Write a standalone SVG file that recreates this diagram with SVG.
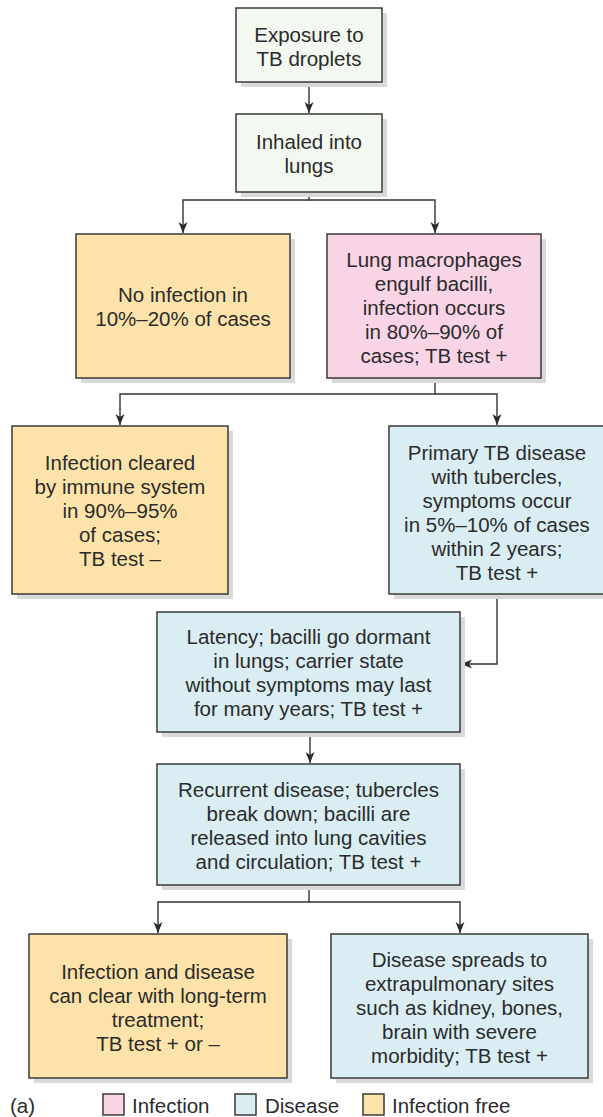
<svg xmlns="http://www.w3.org/2000/svg" width="603" height="1117" viewBox="0 0 603 1117">
  <defs>
    <style>
      .box { stroke: #3a3a3a; stroke-width: 1.5; }
      .shadow { fill: #d9d9d9; }
      .start { fill: #f3f8f0; }
      .free { fill: #fde3a9; }
      .inf { fill: #f9d4e5; }
      .dis { fill: #d9edf2; }
      .lbl { font-family: "Liberation Sans", Arial, sans-serif; font-size: 20.5px; fill: #2b2b2b; text-anchor: middle; }
      .leg { font-family: "Liberation Sans", Arial, sans-serif; font-size: 20.5px; fill: #2b2b2b; }
      .wire { fill: none; stroke: #333; stroke-width: 1.4; }
    </style>
    <marker id="arrow" markerWidth="12" markerHeight="10" refX="11" refY="4.5" orient="auto" markerUnits="userSpaceOnUse">
      <path d="M0,0 L11,4.5 L0,9 L3,4.5 z" fill="#2b2b2b"/>
    </marker>
  </defs>

  <!-- connectors -->
  <g id="connectors">
    <path class="wire" d="M309,82 V113" marker-end="url(#arrow)"/>
    <path class="wire" d="M309,192 V200 H183 V233" marker-end="url(#arrow)"/>
    <path class="wire" d="M309,200 H435 V233" marker-end="url(#arrow)"/>
    <path class="wire" d="M435,378 V394 H120 V425" marker-end="url(#arrow)"/>
    <path class="wire" d="M435,394 H497 V425" marker-end="url(#arrow)"/>
    <path class="wire" d="M497,594 V664 H461" marker-end="url(#arrow)"/>
    <path class="wire" d="M310,732 V763" marker-end="url(#arrow)"/>
    <path class="wire" d="M309,885 V902 H158 V933" marker-end="url(#arrow)"/>
    <path class="wire" d="M309,902 H460 V933" marker-end="url(#arrow)"/>
  </g>

  <g id="exposure">
    <rect class="shadow" x="241" y="13" width="146" height="74"/>
    <rect class="box start" x="236" y="8" width="146" height="74"/>
    <text class="lbl" x="309" y="42">Exposure to</text>
    <text class="lbl" x="309" y="66">TB droplets</text>
  </g>

  <g id="inhaled">
    <rect class="shadow" x="241" y="119" width="146" height="78"/>
    <rect class="box start" x="236" y="114" width="146" height="78"/>
    <text class="lbl" x="309" y="149">Inhaled into</text>
    <text class="lbl" x="309" y="173">lungs</text>
  </g>

  <g id="no-infection">
    <rect class="shadow" x="81" y="239" width="214" height="144"/>
    <rect class="box free" x="76" y="234" width="214" height="144"/>
    <text class="lbl" x="183" y="302">No infection in</text>
    <text class="lbl" x="183" y="326">10%–20% of cases</text>
  </g>

  <g id="macrophages">
    <rect class="shadow" x="332" y="239" width="214" height="144"/>
    <rect class="box inf" x="327" y="234" width="214" height="144"/>
    <text class="lbl" x="434" y="267">Lung macrophages</text>
    <text class="lbl" x="434" y="291">engulf bacilli,</text>
    <text class="lbl" x="434" y="315">infection occurs</text>
    <text class="lbl" x="434" y="339">in 80%–90% of</text>
    <text class="lbl" x="434" y="363">cases; TB test +</text>
  </g>

  <g id="cleared">
    <rect class="shadow" x="17" y="431" width="216" height="168"/>
    <rect class="box free" x="12" y="426" width="216" height="168"/>
    <text class="lbl" x="120" y="470">Infection cleared</text>
    <text class="lbl" x="120" y="494">by immune system</text>
    <text class="lbl" x="120" y="518">in 90%–95%</text>
    <text class="lbl" x="120" y="542">of cases;</text>
    <text class="lbl" x="120" y="566">TB test –</text>
  </g>

  <g id="primary">
    <rect class="shadow" x="394" y="431" width="216" height="168"/>
    <rect class="box dis" x="389" y="426" width="216" height="168"/>
    <text class="lbl" x="497" y="460">Primary TB disease</text>
    <text class="lbl" x="497" y="484">with tubercles,</text>
    <text class="lbl" x="497" y="508">symptoms occur</text>
    <text class="lbl" x="497" y="532">in 5%–10% of cases</text>
    <text class="lbl" x="497" y="556">within 2 years;</text>
    <text class="lbl" x="497" y="580">TB test +</text>
  </g>

  <g id="latency">
    <rect class="shadow" x="162" y="617" width="303" height="120"/>
    <rect class="box dis" x="157" y="612" width="303" height="120"/>
    <text class="lbl" x="308.5" y="644">Latency; bacilli go dormant</text>
    <text class="lbl" x="308.5" y="668">in lungs; carrier state</text>
    <text class="lbl" x="308.5" y="692">without symptoms may last</text>
    <text class="lbl" x="308.5" y="716">for many years; TB test +</text>
  </g>

  <g id="recurrent">
    <rect class="shadow" x="162" y="769" width="303" height="121"/>
    <rect class="box dis" x="157" y="764" width="303" height="121"/>
    <text class="lbl" x="308.5" y="797">Recurrent disease; tubercles</text>
    <text class="lbl" x="308.5" y="821">break down; bacilli are</text>
    <text class="lbl" x="308.5" y="845">released into lung cavities</text>
    <text class="lbl" x="308.5" y="869">and circulation; TB test +</text>
  </g>

  <g id="treatment">
    <rect class="shadow" x="34" y="939" width="258" height="144"/>
    <rect class="box free" x="29" y="934" width="258" height="144"/>
    <text class="lbl" x="158" y="979">Infection and disease</text>
    <text class="lbl" x="158" y="1003">can clear with long-term</text>
    <text class="lbl" x="158" y="1027">treatment;</text>
    <text class="lbl" x="158" y="1051">TB test + or –</text>
  </g>

  <g id="extrapulmonary">
    <rect class="shadow" x="336" y="939" width="257" height="144"/>
    <rect class="box dis" x="331" y="934" width="257" height="144"/>
    <text class="lbl" x="459.5" y="967">Disease spreads to</text>
    <text class="lbl" x="459.5" y="991">extrapulmonary sites</text>
    <text class="lbl" x="459.5" y="1015">such as kidney, bones,</text>
    <text class="lbl" x="459.5" y="1039">brain with severe</text>
    <text class="lbl" x="459.5" y="1063">morbidity; TB test +</text>
  </g>

  <!-- key -->
  <g id="legend">
    <text class="leg" x="10" y="1113">(a)</text>
    <rect class="box inf" x="103" y="1094" width="21" height="21"/>
    <text class="leg" x="132" y="1113">Infection</text>
    <rect class="box dis" x="235" y="1094" width="21" height="21"/>
    <text class="leg" x="265" y="1113">Disease</text>
    <rect class="box free" x="363" y="1094" width="21" height="21"/>
    <text class="leg" x="392" y="1113">Infection free</text>
  </g>
</svg>
